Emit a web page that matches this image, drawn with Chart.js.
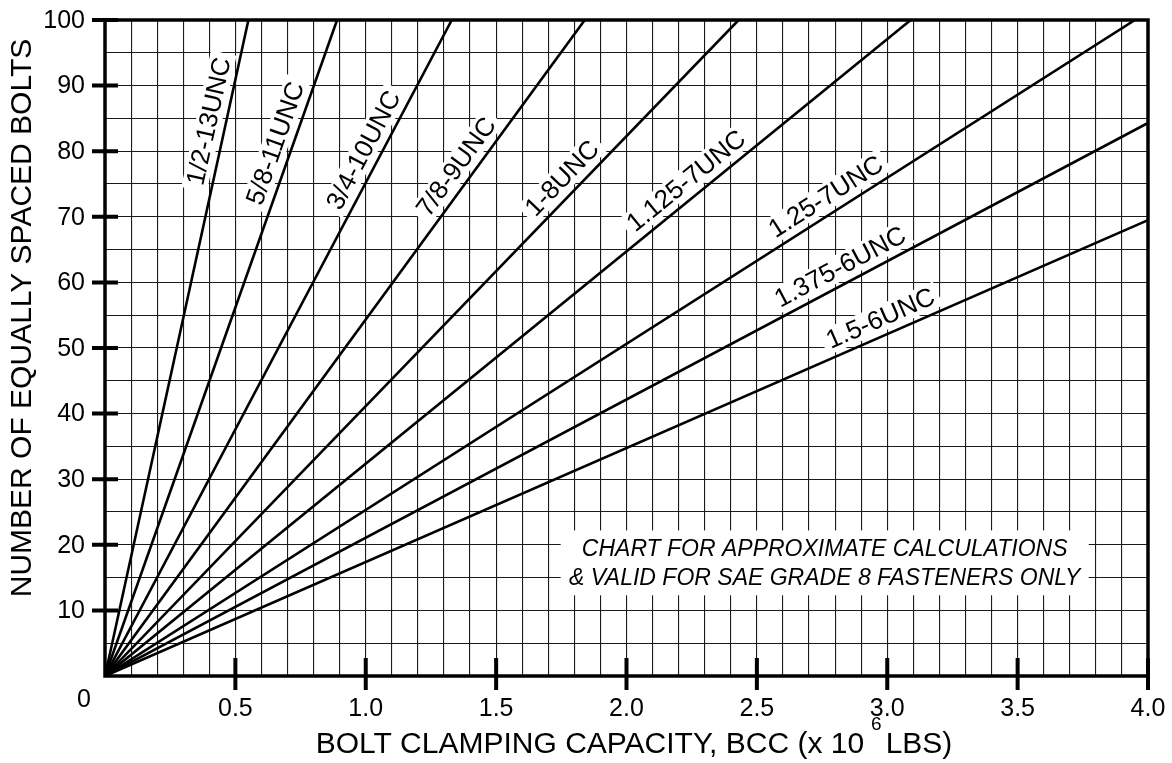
<!DOCTYPE html>
<html>
<head>
<meta charset="utf-8">
<script src="https://cdn.jsdelivr.net/npm/chart.js@4.4.1/dist/chart.umd.min.js"></script>
<style>
  html, body { margin: 0; padding: 0; background: #fff; }
  #wrap { width: 1172px; height: 763px; }
</style>
</head>
<body>
<div id="wrap"><canvas id="bccChart"></canvas></div>
<script>
// Bolt sizes and where each line leaves the grid
const boltSizes = ['1/2-13UNC', '5/8-11UNC', '3/4-10UNC', '7/8-9UNC', '1-8UNC',
                   '1.125-7UNC', '1.25-7UNC', '1.375-6UNC', '1.5-6UNC'];
const bccEnd   = [0.55, 0.89, 1.33, 1.84, 2.43, 3.09, 3.95, 4.0, 4.0];   // x 10^6 lbs
const boltsEnd = [100, 100, 100, 100, 100, 100, 100, 84.3, 69.5];

// Labelled ticks
const bccTicks  = [0.5, 1.0, 1.5, 2.0, 2.5, 3.0, 3.5, 4.0];
const boltTicks = [10, 20, 30, 40, 50, 60, 70, 80, 90, 100];

// Where along each line (BCC value) its name is written
const labelAtBcc = [0.462, 0.715, 1.05, 1.40, 1.80, 2.27, 2.80, 2.85, 3.0];

const noteLines = ['CHART FOR APPROXIMATE CALCULATIONS', '& VALID FOR SAE GRADE 8 FASTENERS ONLY'];

const FONT = "'Liberation Sans', Arial, sans-serif";

/**
 * Frame, crossing tick marks, tick labels, line names, note and axis titles
 */
const chartDecor = {
    id: 'chartDecor',
    beforeDatasetsDraw(chart) {
        const { ctx, scales: { x, y } } = chart;
        ctx.save();

        // note with white backing
        const nx = x.getPixelForValue(2.76);
        ctx.font = `italic 23px ${FONT}`;
        ctx.fillStyle = '#fff';
        ctx.fillRect(nx - 264, y.getPixelForValue(22.2), 528, y.getPixelForValue(12.3) - y.getPixelForValue(22.2));
        ctx.fillStyle = '#000';
        ctx.textAlign = 'center';
        ctx.textBaseline = 'middle';
        ctx.fillText(noteLines[0], nx, y.getPixelForValue(19.3));
        ctx.fillText(noteLines[1], nx, y.getPixelForValue(14.9));

        // line names, written along each line
        ctx.font = `26px ${FONT}`;
        const x0 = x.getPixelForValue(0), y0 = y.getPixelForValue(0);
        boltSizes.forEach((name, i) => {
            const x1 = x.getPixelForValue(bccEnd[i]);
            const y1 = y.getPixelForValue(boltsEnd[i]);
            const ang = Math.atan2(y1 - y0, x1 - x0);
            const px = x.getPixelForValue(labelAtBcc[i]);
            const py = y0 + (y1 - y0) * (px - x0) / (x1 - x0);
            const off = 17;
            const cx = px + off * Math.sin(ang);
            const cy = py - off * Math.cos(ang);
            const w = ctx.measureText(name).width;
            ctx.save();
            ctx.translate(cx, cy);
            ctx.rotate(ang);
            ctx.fillStyle = '#fff';
            ctx.fillRect(-w / 2 - 5, -13, w + 10, 26);
            ctx.fillStyle = '#000';
            ctx.fillText(name, 0, 1);
            ctx.restore();
        });
        ctx.restore();
    },
    afterDraw(chart) {
        const { ctx, chartArea: a, scales: { x, y } } = chart;
        ctx.save();
        ctx.strokeStyle = '#000';

        // outer frame
        ctx.lineWidth = 3.5;
        ctx.strokeRect(a.left, a.top, a.right - a.left, a.bottom - a.top);

        // tick marks crossing the axes
        ctx.lineWidth = 4;
        ctx.beginPath();
        boltTicks.forEach(v => {
            const py = y.getPixelForValue(v);
            ctx.moveTo(a.left - 13, py);
            ctx.lineTo(a.left + 13, py);
        });
        bccTicks.forEach(v => {
            const px = x.getPixelForValue(v);
            ctx.moveTo(px, a.bottom - 18);
            ctx.lineTo(px, a.bottom + 14);
        });
        ctx.stroke();

        // tick labels
        ctx.fillStyle = '#000';
        ctx.textBaseline = 'middle';
        ctx.font = `25px ${FONT}`;
        ctx.textAlign = 'right';
        boltTicks.forEach(v => ctx.fillText(String(v), a.left - 20, y.getPixelForValue(v) + 1));
        ctx.textAlign = 'center';
        bccTicks.forEach(v => ctx.fillText(v.toFixed(1), x.getPixelForValue(v), a.bottom + 33));
        ctx.fillText('0', a.left - 21, a.bottom + 24);

        // y title
        ctx.save();
        ctx.translate(23, 318);
        ctx.rotate(-Math.PI / 2);
        ctx.font = `30px ${FONT}`;
        ctx.fillText('NUMBER OF EQUALLY SPACED BOLTS', 0, 0);
        ctx.restore();

        // x title with superscript
        const partA = 'BOLT CLAMPING CAPACITY, BCC (x 10';
        const sup = '6';
        const partB = 'LBS)';
        ctx.font = `30px ${FONT}`;
        const wA = ctx.measureText(partA).width;
        const wB = ctx.measureText(partB).width;
        ctx.font = `19px ${FONT}`;
        const wS = ctx.measureText(sup).width;
        const gap1 = 7, gap2 = 4;
        let tx = 634 - (wA + gap1 + wS + gap2 + wB) / 2;
        const ty = 745;
        ctx.textAlign = 'left';
        ctx.font = `30px ${FONT}`;
        ctx.fillText(partA, tx, ty);
        tx += wA + gap1;
        ctx.font = `19px ${FONT}`;
        ctx.fillText(sup, tx, ty - 20);
        tx += wS + gap2;
        ctx.font = `30px ${FONT}`;
        ctx.fillText(partB, tx, ty);

        ctx.restore();
    }
};

const datasets = boltSizes.map((name, i) => ({
    label: name,
    data: [{ x: 0, y: 0 }, { x: bccEnd[i], y: boltsEnd[i] }],
    borderColor: '#000',
    borderWidth: 2.6,
    pointRadius: 0,
    fill: false,
    tension: 0
}));

new Chart(document.getElementById('bccChart'), {
    type: 'line',
    data: { datasets },
    options: {
        responsive: true,
        maintainAspectRatio: false,
        animation: false,
        layout: { padding: { left: 0, right: 24, top: 20, bottom: 0 } },
        plugins: {
            legend: { display: false },
            tooltip: { enabled: false }
        },
        scales: {
            x: {
                type: 'linear',
                min: 0,
                max: 4,
                afterFit: (s) => {
                    s.height = 87;
                    s.paddingLeft = 0; s.paddingRight = 0;
                },
                border: { display: false },
                grid: { color: '#1a1a1a', lineWidth: 1.1, drawTicks: false },
                ticks: { stepSize: 0.1, autoSkip: false, display: false }
            },
            y: {
                type: 'linear',
                min: 0,
                max: 100,
                afterFit: (s) => {
                    s.width = 105;
                    s.paddingTop = 0; s.paddingBottom = 0;
                },
                border: { display: false },
                grid: { color: '#1a1a1a', lineWidth: 1.1, drawTicks: false },
                ticks: { stepSize: 5, autoSkip: false, display: false }
            }
        }
    },
    plugins: [chartDecor]
});
</script>
</body>
</html>
